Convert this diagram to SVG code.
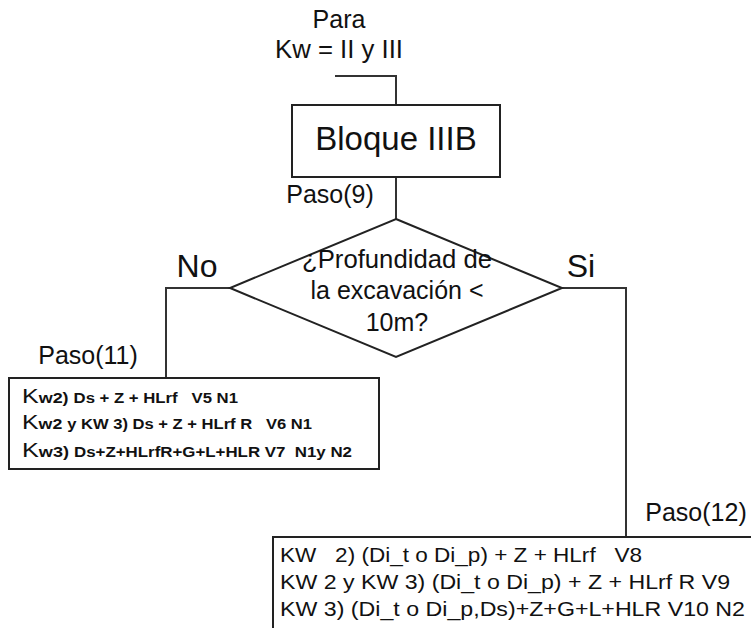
<svg xmlns="http://www.w3.org/2000/svg" width="751" height="628" viewBox="0 0 751 628">
<style>
text{font-family:"Liberation Sans",Arial,sans-serif;fill:#111;white-space:pre}
.n{fill:#fff;stroke:#222;stroke-width:2}
.c{fill:none;stroke:#333;stroke-width:2}
.t25{font-size:25px}
.t32{font-size:32px}
.t33{font-size:33px}
.big{font-size:21px}
.md{font-size:15px;font-weight:bold}
.sm{font-size:14px;font-weight:bold}
.r{font-size:21px}
</style>
<rect width="751" height="628" fill="#fff"/>
<g id="connectors">
<path class="c" d="M335,76 H396 V105"/>
<path class="c" d="M396,177 V219"/>
<path class="c" d="M230,288 H166 V378"/>
<path class="c" d="M562,288 H626 V537"/>
</g>
<g id="start">
<text class="t25" x="339" y="28" text-anchor="middle">Para</text>
<text class="t25" x="339" y="58" text-anchor="middle" textLength="128" lengthAdjust="spacingAndGlyphs">Kw = II y III</text>
</g>
<g id="bloque">
<rect class="n" x="292" y="105" width="208" height="72"/>
<text class="t33" x="396" y="150" text-anchor="middle">Bloque IIIB</text>
</g>
<g id="paso9">
<text class="t25" x="330" y="203" text-anchor="middle">Paso(9)</text>
</g>
<g id="decision">
<polygon class="n" points="396,219 562,288 396,357 230,288"/>
<text class="t25" x="397" y="268" text-anchor="middle" textLength="190" lengthAdjust="spacingAndGlyphs">¿Profundidad de</text>
<text class="t25" x="397" y="299" text-anchor="middle">la excavación &lt;</text>
<text class="t25" x="397" y="331" text-anchor="middle">10m?</text>
</g>
<g id="labels">
<text class="t32" x="197" y="277" text-anchor="middle">No</text>
<text class="t32" x="581" y="277" text-anchor="middle">Si</text>
</g>
<g id="paso11">
<text class="t25" x="88" y="364" text-anchor="middle">Paso(11)</text>
<rect class="n" x="9" y="378" width="370" height="91"/>
<text x="22" y="403" textLength="216" lengthAdjust="spacingAndGlyphs"><tspan class="big">K</tspan><tspan class="md">w2) </tspan><tspan class="sm">Ds + Z + HLrf   V5 N1</tspan></text>
<text x="22" y="429" textLength="290" lengthAdjust="spacingAndGlyphs"><tspan class="big">K</tspan><tspan class="md">w2 </tspan><tspan class="sm">y KW 3) Ds + Z + HLrf R   V6 N1</tspan></text>
<text x="22" y="457" textLength="330" lengthAdjust="spacingAndGlyphs"><tspan class="big">K</tspan><tspan class="md">w3) </tspan><tspan class="sm">Ds+Z+HLrfR+G+L+HLR V7  N1y N2</tspan></text>
</g>
<g id="paso12">
<text class="t25" x="696" y="521" text-anchor="middle">Paso(12)</text>
<rect class="n" x="273" y="537" width="490" height="100"/>
<text class="r" x="280" y="562" textLength="362" lengthAdjust="spacingAndGlyphs">KW   2) (Di_t o Di_p) + Z + HLrf   V8</text>
<text class="r" x="280" y="589" textLength="450" lengthAdjust="spacingAndGlyphs">KW 2 y KW 3) (Di_t o Di_p) + Z + HLrf R V9</text>
<text class="r" x="280" y="616" textLength="465" lengthAdjust="spacingAndGlyphs">KW 3) (Di_t o Di_p,Ds)+Z+G+L+HLR V10 N2</text>
</g>
</svg>
